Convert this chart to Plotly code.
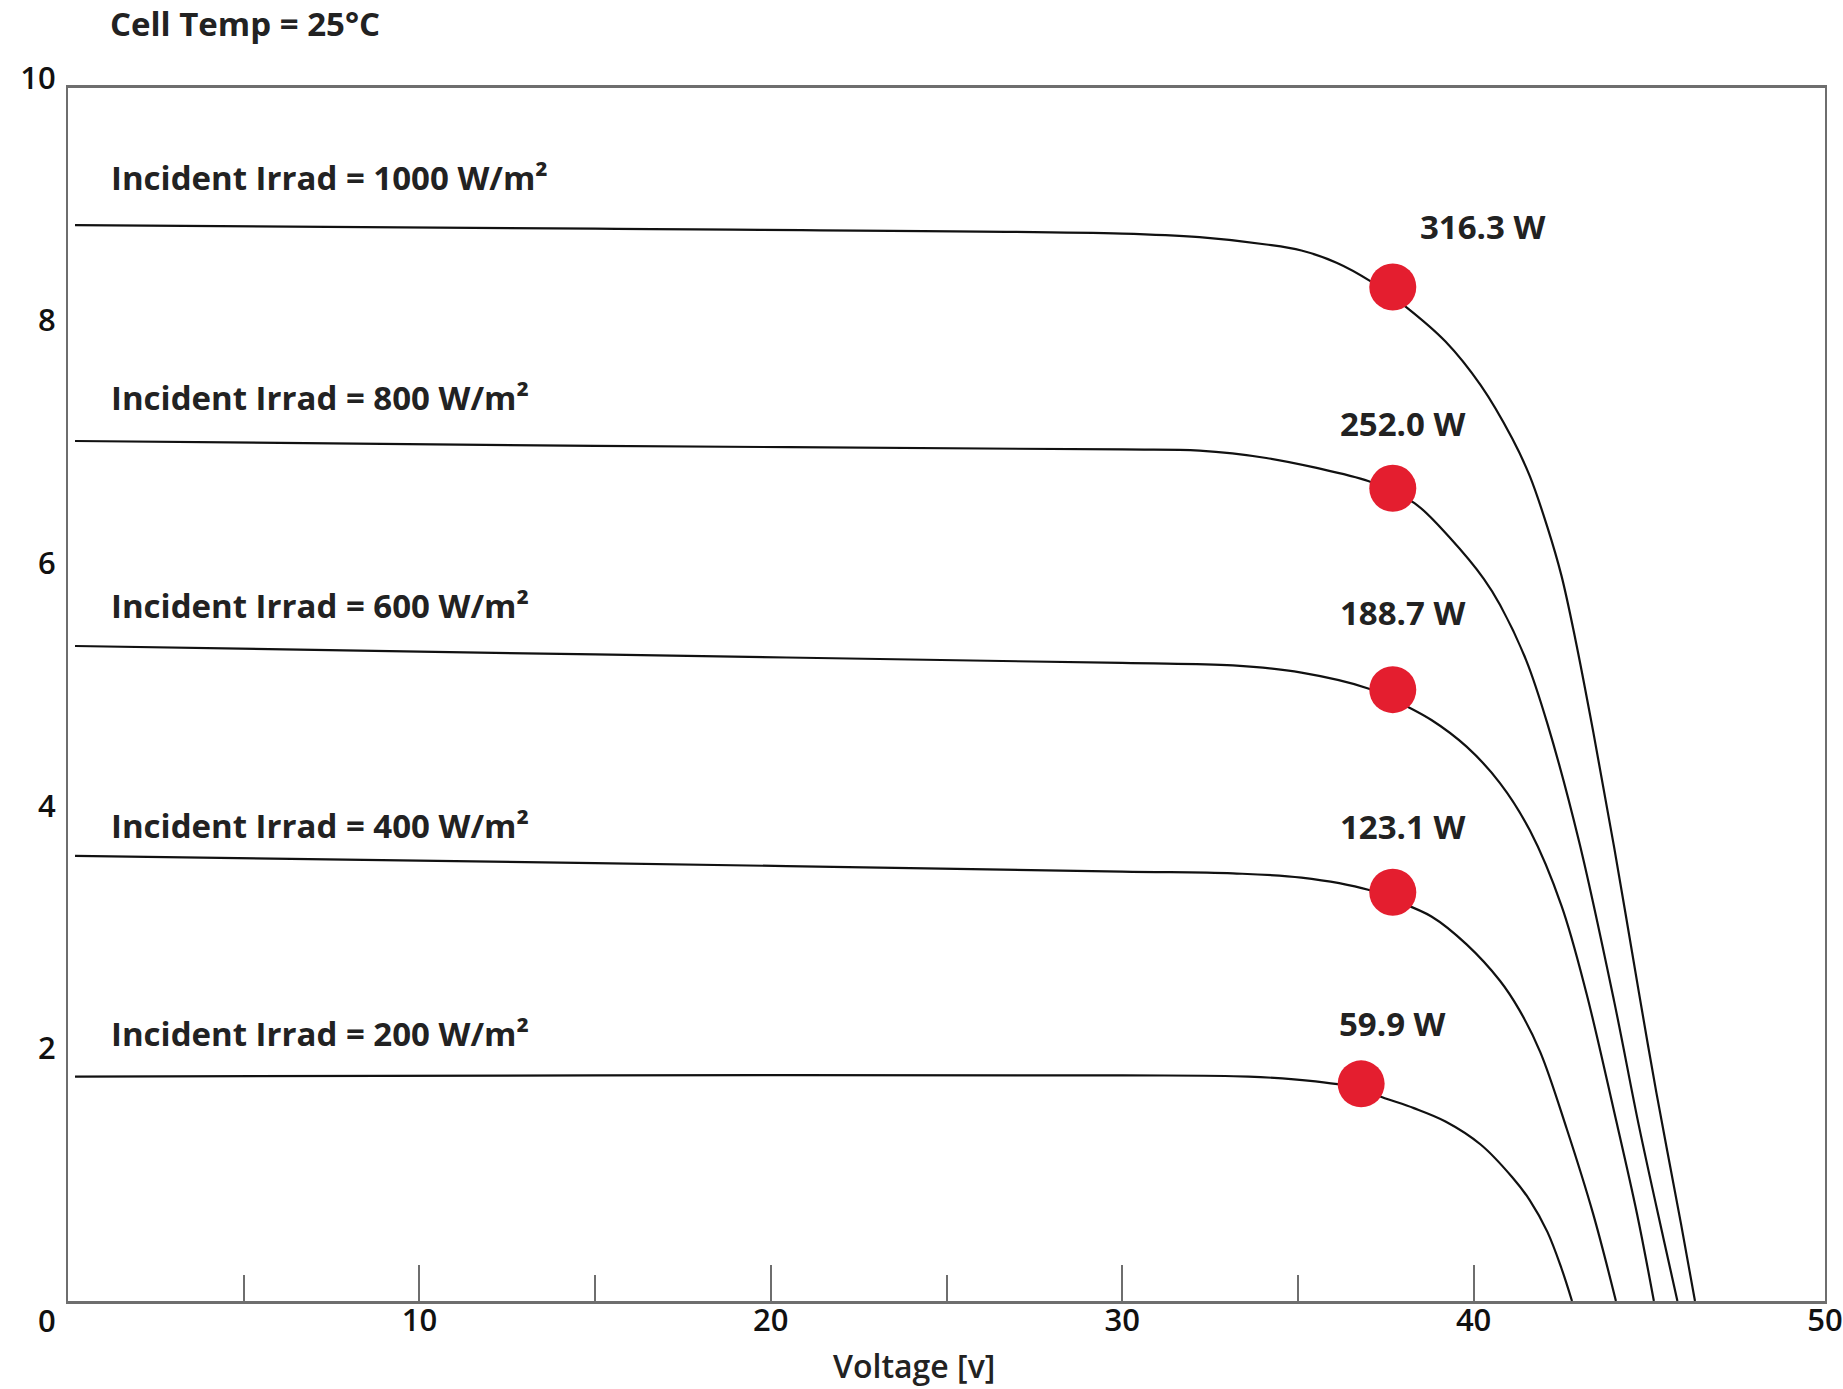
import plotly.graph_objects as go

# ---------------- data ----------------
irradiance_labels = ["Incident Irrad = 1000 W/m²", "Incident Irrad = 800 W/m²",
                     "Incident Irrad = 600 W/m²", "Incident Irrad = 400 W/m²",
                     "Incident Irrad = 200 W/m²"]

v_1000 = [0.2, 15, 30, 32.2, 34.1, 35.1, 36.1, 37.05, 38.1, 39.2, 40.2, 41.1, 41.6, 42.1, 42.5, 42.9, 43.4, 44.0, 44.7, 45.2, 45.9, 46.3]
i_1000 = [8.87, 8.84, 8.80, 8.77, 8.71, 8.66, 8.56, 8.41, 8.19, 7.91, 7.55, 7.11, 6.80, 6.38, 5.98, 5.45, 4.70, 3.74, 2.55, 1.72, 0.64, 0.0]

v_800 = [0.2, 15, 30, 32.2, 34.1, 35.5, 37.0, 37.7, 38.4, 39.3, 40.3, 40.75, 41.5, 42.1, 43.0, 44.0, 44.7, 45.4, 45.8]
i_800 = [7.09, 7.05, 7.02, 7.01, 6.95, 6.87, 6.76, 6.67, 6.56, 6.30, 5.95, 5.74, 5.28, 4.76, 3.79, 2.47, 1.45, 0.52, 0.0]

v_600 = [0.2, 15, 30, 33.15, 35.1, 37.0, 37.7, 38.8, 39.8, 40.75, 41.6, 42.5, 43.2, 44.0, 44.65, 45.13]
i_600 = [5.40, 5.33, 5.26, 5.24, 5.18, 5.05, 4.96, 4.79, 4.57, 4.27, 3.88, 3.26, 2.55, 1.56, 0.72, 0.0]

v_400 = [0.2, 15, 30, 33.15, 35.1, 37.0, 37.7, 38.8, 39.8, 40.75, 41.3, 41.9, 42.65, 43.4, 44.05]
i_400 = [3.67, 3.61, 3.54, 3.525, 3.49, 3.39, 3.31, 3.17, 2.94, 2.64, 2.40, 2.05, 1.42, 0.72, 0.0]

v_200 = [0.2, 15, 30, 33.6, 35.5, 36.8, 37.4, 38.3, 39.2, 40.2, 41.1, 41.6, 42.1, 42.5, 42.8]
i_200 = [1.85, 1.86, 1.86, 1.85, 1.81, 1.75, 1.68, 1.59, 1.48, 1.29, 1.02, 0.83, 0.57, 0.27, 0.0]

mpp_voltage = [37.7, 37.7, 37.7, 37.7, 36.8]
mpp_current = [8.36, 6.70, 5.04, 3.37, 1.79]
mpp_power = ["316.3 W", "252.0 W", "188.7 W", "123.1 W", "59.9 W"]

x_ticks = [10, 20, 30, 40, 50]
x_minor_ticks = [5, 15, 25, 35]
y_ticks = [2, 4, 6, 8, 10]

# ---------------- styles / offsets ----------------
FONT = "Open Sans"
TXT = "#222222"
AX = "#6e6e6e"
RED = "#E41E2F"
irr_label_yshift = [48, 43, 40, 30, 43]
pow_label_xshift = [25, -55, -55, -55, -24]
pow_label_yshift = [60, 65, 77, 66, 60]

curves = [(v_1000, i_1000), (v_800, i_800), (v_600, i_600), (v_400, i_400), (v_200, i_200)]

fig = go.Figure()
for (vv, ii), name in zip(curves, irradiance_labels):
    fig.add_trace(go.Scatter(x=vv, y=ii, mode="lines", name=name,
                             line=dict(color="#111111", width=2.2, shape="spline", smoothing=1.0),
                             hoverinfo="skip", showlegend=False))

fig.add_trace(go.Scatter(x=mpp_voltage, y=mpp_current, mode="markers",
                         marker=dict(color=RED, size=47, line=dict(width=0)),
                         showlegend=False, hoverinfo="skip"))

annotations = []
for (vv, ii), name, ys in zip(curves, irradiance_labels, irr_label_yshift):
    annotations.append(dict(x=0, y=ii[0], xref="x", yref="y", text=name, showarrow=False,
                            xanchor="left", yanchor="middle", xshift=41, yshift=ys,
                            font=dict(family=FONT, size=33, color=TXT, weight=700)))
for v, i, p, xs, ys in zip(mpp_voltage, mpp_current, mpp_power, pow_label_xshift, pow_label_yshift):
    annotations.append(dict(x=v, y=i, xref="x", yref="y", text=p, showarrow=False,
                            xanchor="left", yanchor="middle", xshift=xs, yshift=ys,
                            font=dict(family=FONT, size=33, color=TXT, weight=700)))

annotations.append(dict(x=0, y=1, xref="paper", yref="paper", text="Cell Temp = 25°C",
                        showarrow=False, xanchor="left", yanchor="middle", xshift=40, yshift=65,
                        font=dict(family=FONT, size=33, color=TXT, weight=700)))
annotations.append(dict(x=0, y=0, xref="x", yref="y", text="0", showarrow=False,
                        xanchor="center", yanchor="middle", xshift=-21, yshift=-19,
                        font=dict(family=FONT, size=31, color="#111111", weight=600)))
annotations.append(dict(x=0.4815, y=0, xref="paper", yref="paper", text="Voltage [v]",
                        showarrow=False, xanchor="center", yanchor="middle", yshift=-64,
                        borderpad=0,
                        font=dict(family=FONT, size=32, color=TXT, weight=600)))

fig.update_layout(
    width=1843, height=1389,
    margin=dict(l=68, r=18, t=88, b=88, autoexpand=False),
    paper_bgcolor="white", plot_bgcolor="white",
    annotations=annotations,
    xaxis=dict(range=[0, 50], tickmode="array", tickvals=x_ticks, ticktext=[str(t) for t in x_ticks],
               ticks="inside", ticklen=36, tickwidth=2, tickcolor=AX,
               minor=dict(tickmode="array", tickvals=x_minor_ticks, ticks="inside",
                          ticklen=26, tickwidth=2, tickcolor=AX, showgrid=False),
               showline=True, linecolor=AX, linewidth=3, mirror=True,
               showgrid=False, zeroline=False, automargin=False, ticklabelstandoff=-10,
               tickfont=dict(family=FONT, size=31, color="#111111", weight=600)),
    yaxis=dict(range=[0, 10], tickmode="array", tickvals=y_ticks, ticktext=[str(t) for t in y_ticks],
               ticks="", showline=True, linecolor=AX, linewidth=2, mirror=True,
               showgrid=False, zeroline=False, automargin=False,
               ticklabelstandoff=4, ticklabelshift=-10,
               tickfont=dict(family=FONT, size=31, color="#111111", weight=600)),
)

fig.write_html("out.html",
               config={"displayModeBar": False},
               post_script="document.body.style.margin='0px';"
                           "document.documentElement.style.overflow='hidden';"
                           "document.body.style.overflow='hidden';")
